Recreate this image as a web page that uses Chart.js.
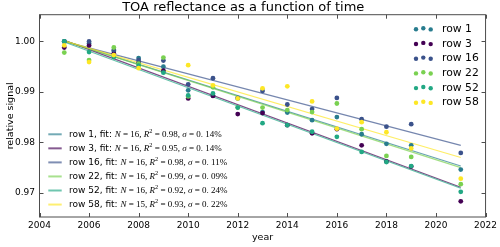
<!DOCTYPE html>
<html lang="en">
<head>
<meta charset="UTF-8">
<title>TOA reflectance as a function of time</title>
<script src="https://cdn.jsdelivr.net/npm/chart.js"></script>
<style>
  html, body { margin: 0; padding: 0; background: #fff; }
  #wrap { width: 500px; height: 247px; }
</style>
</head>
<body>
<div id="wrap"><canvas id="chart" width="500" height="247"></canvas></div>
<script>
// measured years (no data for 2020)
const years = [2005, 2006, 2007, 2008, 2009, 2010, 2011, 2012, 2013, 2014, 2015, 2016, 2017, 2018, 2019, 2021];

const rowNames = ['row 1', 'row 3', 'row 16', 'row 22', 'row 52', 'row 58'];
const rowColors = ['#287c8e', '#440154', '#3b528b', '#7ad151', '#22a884', '#fde725'];

const row1  = [1.0000, 0.9996, 0.9981, 0.9967, 0.9950, 0.9903, 0.9893, 0.9887, 0.9860, 0.9859, 0.9844, 0.9850, 0.9816, 0.9797, 0.9794, 0.9746];
const row3  = [0.9988, 0.9992, 0.9976, 0.9958, 0.9942, 0.9887, 0.9892, 0.9856, 0.9858, 0.9834, 0.9818, 0.9826, 0.9794, 0.9762, 0.9752, 0.9683];
const row16 = [1.0000, 1.0000, 0.9983, 0.9963, 0.9962, 0.9915, 0.9927, 0.9888, 0.9902, 0.9875, 0.9866, 0.9888, 0.9846, 0.9831, 0.9836, 0.9779];
const row22 = [0.9978, 0.9963, 0.9988, 0.9956, 0.9968, 0.9891, 0.9909, 0.9869, 0.9869, 0.9864, 0.9860, 0.9877, 0.9826, 0.9773, 0.9771, 0.9717];
const row52 = [1.0000, 0.9979, 0.9969, 0.9952, 0.9938, 0.9893, 0.9897, 0.9869, 0.9838, 0.9834, 0.9821, 0.9811, 0.9781, 0.9761, 0.9753, 0.9702];
const row58 = [0.9992, 0.9959, 0.9973, 0.9947, null,   0.9953, 0.9913, 0.9887, 0.9907, 0.9911, 0.9881, 0.9827, 0.9840, 0.9820, 0.9788, 0.9728];
const rows = [row1, row3, row16, row22, row52, row58];

// linear fits, evaluated at first and last year
const fitYears = [2005, 2021];
const fitStart = [1.0001, 1.0002, 1.0000, 1.0001, 0.9999, 1.0001];
const fitEnd   = [0.9753, 0.9711, 0.9794, 0.9750, 0.9709, 0.9770];
const fitN     = ['16', '16', '16', '16', '16', '15'];
const fitR2    = ['0.98', '0.95', '0.98', '0.99', '0.92', '0.93'];
const fitSigma = ['0. 14', '0. 14', '0. 11', '0. 09', '0. 24', '0. 22'];

const xTicks = [2004, 2006, 2008, 2010, 2012, 2014, 2016, 2018, 2020, 2022];
const yTicks = [0.97, 0.98, 0.99, 1.00];

function withAlpha(hex, a) {
    const n = parseInt(hex.slice(1), 16);
    return `rgba(${n >> 16}, ${(n >> 8) & 255}, ${n & 255}, ${a})`;
}

const datasets = [];
rows.forEach((vals, i) => {
    datasets.push({
        label: rowNames[i] + ' fit',
        data: fitYears.map((yr, k) => ({ x: yr, y: k === 0 ? fitStart[i] : fitEnd[i] })),
        showLine: true,
        borderColor: withAlpha(rowColors[i], 0.7),
        borderWidth: 1.2,
        pointRadius: 0,
        order: 20 - i
    });
});
rows.forEach((vals, i) => {
    datasets.push({
        label: rowNames[i],
        data: years.map((yr, k) => ({ x: yr, y: vals[k] })),
        backgroundColor: rowColors[i],
        borderWidth: 0,
        pointRadius: 2.4,
        order: 10 - i
    });
});

const sans = 'DejaVu Sans';
const serif = 'Liberation Serif';

// frame, inward ticks and both legends
const decor = {
    id: 'decor',
    afterDraw(chart) {
        const { ctx, chartArea: a, scales: { x, y } } = chart;
        ctx.save();
        ctx.strokeStyle = '#4d4d4d';
        ctx.lineWidth = 1;
        ctx.strokeRect(a.left, a.top, a.right - a.left, a.bottom - a.top);

        ctx.beginPath();
        xTicks.forEach(v => {
            const px = Math.round(x.getPixelForValue(v)) + 0.5;
            ctx.moveTo(px, a.bottom); ctx.lineTo(px, a.bottom - 4);
            ctx.moveTo(px, a.top); ctx.lineTo(px, a.top + 4);
        });
        yTicks.forEach(v => {
            const py = Math.round(y.getPixelForValue(v)) + 0.5;
            ctx.moveTo(a.left, py); ctx.lineTo(a.left + 4, py);
            ctx.moveTo(a.right, py); ctx.lineTo(a.right - 4, py);
        });
        ctx.stroke();

        // scatter legend, upper right
        ctx.textBaseline = 'middle';
        ctx.textAlign = 'left';
        rowNames.forEach((name, i) => {
            const ey = a.top + 14.3 + i * 14.7;
            ctx.fillStyle = rowColors[i];
            [[a.left + 376.5, 0.3], [a.left + 383.8, -0.8], [a.left + 391.2, 0.4]].forEach(([dx, dy]) => {
                ctx.beginPath();
                ctx.arc(dx, ey + dy, 2.2, 0, Math.PI * 2);
                ctx.fill();
            });
            ctx.fillStyle = '#000';
            ctx.font = `10.8px "${sans}"`;
            ctx.fillText(name, a.left + 402.5, ey);
        });

        // fit legend, lower left
        rowNames.forEach((name, i) => {
            const ey = a.top + 119.6 + i * 14.05;
            ctx.strokeStyle = withAlpha(rowColors[i], 0.65);
            ctx.lineWidth = 2;
            ctx.beginPath();
            ctx.moveTo(a.left + 8.8, ey); ctx.lineTo(a.left + 22.2, ey);
            ctx.stroke();

            ctx.fillStyle = '#000';
            let tx = a.left + 29.5;
            const parts = [
                [name + ', fit: ', `9px "${sans}"`, 0],
                ['N', `italic 9px "${serif}"`, 0],
                [' = ' + fitN[i] + ', ', `9px "${serif}"`, 0],
                ['R', `italic 9px "${serif}"`, 0],
                ['2', `6.3px "${serif}"`, -3],
                [' = ' + fitR2[i] + ', ', `9px "${serif}"`, 0],
                ['σ', `italic 9px "${serif}"`, 0],
                [' = ' + fitSigma[i] + '%', `9px "${serif}"`, 0]
            ];
            parts.forEach(([t, f, dy]) => {
                ctx.font = f;
                ctx.fillText(t, tx, ey + dy);
                tx += ctx.measureText(t).width;
            });
        });
        ctx.restore();
    }
};

new Chart(document.getElementById('chart'), {
    type: 'scatter',
    data: { datasets },
    options: {
        responsive: false,
        animation: false,
        layout: { padding: { left: 0, right: 13.5, top: 0, bottom: 0 } },
        plugins: {
            legend: { display: false },
            tooltip: { enabled: false },
            title: {
                display: true,
                text: 'TOA reflectance as a function of time',
                color: '#000',
                font: { family: sans, size: 13, weight: 'normal', lineHeight: 1.1 },
                padding: { top: 0.4, bottom: 0 }
            }
        },
        scales: {
            x: {
                type: 'linear',
                min: 2004,
                max: 2022,
                afterBuildTicks: s => { s.ticks = xTicks.map(v => ({ value: v })); },
                afterFit: s => { s.height = 30; },
                grid: { display: false, drawTicks: false },
                border: { display: false },
                ticks: { color: '#000', padding: 3, maxRotation: 0, font: { family: sans, size: 9 }, callback: v => String(v) },
                title: { display: true, text: 'year', color: '#000', font: { family: sans, size: 9.5 }, padding: { top: 4, bottom: 4 } }
            },
            y: {
                type: 'linear',
                min: 0.9652,
                max: 1.0053,
                afterBuildTicks: s => { s.ticks = yTicks.map(v => ({ value: v })); },
                afterFit: s => { s.width = 39.5; },
                grid: { display: false, drawTicks: false },
                border: { display: false },
                ticks: { color: '#000', padding: 4.5, font: { family: sans, size: 9 }, callback: v => v.toFixed(2) },
                title: { display: true, text: 'relative signal', color: '#000', font: { family: sans, size: 9.5 }, padding: { top: 4.5, bottom: 0 } }
            }
        }
    },
    plugins: [decor]
});
</script>
</body>
</html>
